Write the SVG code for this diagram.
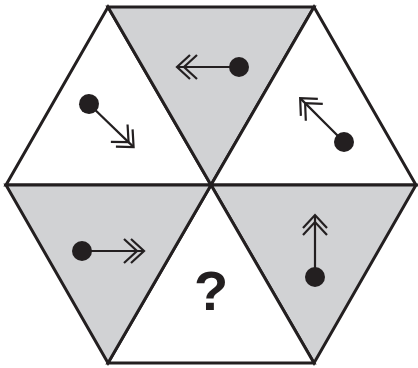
<svg xmlns="http://www.w3.org/2000/svg" width="418" height="368" viewBox="0 0 418 368">
<style>
.tri{stroke:#231f20;stroke-width:3;stroke-linejoin:miter}
.w{fill:#ffffff}
.g{fill:#d1d2d4}
.ln{stroke:#231f20;stroke-width:2.2;fill:none}
.dot{fill:#231f20}
.q{font-family:"Liberation Sans",Arial,sans-serif;font-weight:bold;font-size:56px;fill:#231f20}
</style>
<defs>
<g id="arrow">
<line class="ln" x1="0" y1="0" x2="61" y2="0"/>
<polyline class="ln" points="49,-12 62,0 49,12"/>
<polyline class="ln" points="42,-12 55,0 42,12"/>
<circle class="dot" cx="0" cy="0" r="10"/>
</g>
</defs>
<rect width="418" height="368" fill="#ffffff"/>
<g id="t-top-left"><polygon class="tri w" points="6,185 108,7 211,185"/><use href="#arrow" transform="translate(89,104) rotate(44)"/></g>
<g id="t-top"><polygon class="tri g" points="108,7 314,7 211,185"/><use href="#arrow" transform="translate(239,67) rotate(180)"/></g>
<g id="t-top-right"><polygon class="tri w" points="314,7 416,185 211,185"/><use href="#arrow" transform="translate(344,142) rotate(-135)"/></g>
<g id="t-bottom-right"><polygon class="tri g" points="211,185 416,185 314,363"/><use href="#arrow" transform="translate(315,277) rotate(-90)"/></g>
<g id="t-bottom"><polygon class="tri w" points="211,185 314,363 108,363"/><text class="q" x="211" y="310" text-anchor="middle">?</text></g>
<g id="t-bottom-left"><polygon class="tri g" points="6,185 211,185 108,363"/><use href="#arrow" transform="translate(82,251)"/></g>
<g id="connectors"></g>
</svg>
